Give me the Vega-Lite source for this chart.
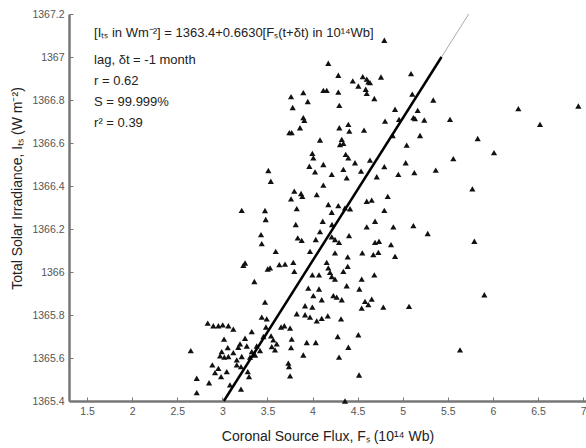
{
  "$schema": "https://vega.github.io/schema/vega-lite/v6.json",
  "width": 517,
  "height": 387,
  "autosize": {"type": "none"},
  "padding": {"left": 69, "top": 14, "right": 0, "bottom": 47},
  "background": "white",
  "config": {"view": {"stroke": null}, "font": "Liberation Sans"},
  "datasets": {
    "points": [
      {"flux":3.762,"irr":1366.816},{"flux":3.898,"irr":1366.834},{"flux":3.947,"irr":1366.793},{"flux":3.780,"irr":1366.765},{"flux":4.120,"irr":1366.845},{"flux":3.898,"irr":1366.718},{"flux":3.909,"irr":1366.705},{"flux":3.861,"irr":1366.671},{"flux":3.743,"irr":1366.648},{"flux":3.769,"irr":1366.648},{"flux":4.083,"irr":1366.614},{"flux":3.998,"irr":1366.552},{"flux":4.009,"irr":1366.531},{"flux":3.965,"irr":1366.492},{"flux":4.028,"irr":1366.466},{"flux":3.510,"irr":1366.472},{"flux":3.537,"irr":1366.422},{"flux":4.120,"irr":1366.404},{"flux":3.798,"irr":1366.376},{"flux":3.873,"irr":1366.365},{"flux":3.887,"irr":1366.352},{"flux":3.762,"irr":1366.340},{"flux":4.047,"irr":1366.360},{"flux":3.825,"irr":1366.295},{"flux":3.215,"irr":1366.287},{"flux":3.473,"irr":1366.286},{"flux":4.120,"irr":1366.500},
      {"flux":4.796,"irr":1367.078},{"flux":4.175,"irr":1366.971},{"flux":4.286,"irr":1366.915},{"flux":4.446,"irr":1366.889},{"flux":4.508,"irr":1366.865},{"flux":4.557,"irr":1366.909},{"flux":4.601,"irr":1366.897},{"flux":4.619,"irr":1366.884},{"flux":4.637,"irr":1366.881},{"flux":4.759,"irr":1366.907},{"flux":5.092,"irr":1366.923},{"flux":4.157,"irr":1366.845},{"flux":4.286,"irr":1366.837},{"flux":4.590,"irr":1366.850},{"flux":4.601,"irr":1366.831},{"flux":4.685,"irr":1366.807},{"flux":4.297,"irr":1366.775},{"flux":5.106,"irr":1366.827},{"flux":5.339,"irr":1366.800},{"flux":4.915,"irr":1366.757},{"flux":5.166,"irr":1366.752},{"flux":5.118,"irr":1366.718},{"flux":5.136,"irr":1366.713},{"flux":5.239,"irr":1366.707},{"flux":5.524,"irr":1366.710},{"flux":4.804,"irr":1366.702},{"flux":4.959,"irr":1366.710},{"flux":4.297,"irr":1366.671},{"flux":4.397,"irr":1366.687},{"flux":4.408,"irr":1366.655},{"flux":4.571,"irr":1366.660},{"flux":4.324,"irr":1366.617},{"flux":4.305,"irr":1366.593},{"flux":4.342,"irr":1366.598},{"flux":4.889,"irr":1366.635},{"flux":5.192,"irr":1366.635},{"flux":5.044,"irr":1366.590},{"flux":4.368,"irr":1366.547},{"flux":4.397,"irr":1366.531},{"flux":4.471,"irr":1366.508},{"flux":4.342,"irr":1366.477},{"flux":4.213,"irr":1366.454},{"flux":4.379,"irr":1366.438},{"flux":4.538,"irr":1366.469},{"flux":4.637,"irr":1366.520},{"flux":4.796,"irr":1366.490},{"flux":4.712,"irr":1366.443},{"flux":4.951,"irr":1366.454},{"flux":5.033,"irr":1366.508},{"flux":5.129,"irr":1366.462},{"flux":5.366,"irr":1366.474},{"flux":5.561,"irr":1366.527},{"flux":4.834,"irr":1366.352},{"flux":4.601,"irr":1366.329},{"flux":4.656,"irr":1366.334},{"flux":4.796,"irr":1366.287},{"flux":4.175,"irr":1366.314},{"flux":4.286,"irr":1366.309},{"flux":4.360,"irr":1366.298},{"flux":4.416,"irr":1366.294},{"flux":4.213,"irr":1366.278},
      {"flux":6.282,"irr":1366.760},{"flux":6.947,"irr":1366.772},{"flux":6.522,"irr":1366.687},{"flux":5.831,"irr":1366.621},{"flux":6.012,"irr":1366.555},{"flux":5.772,"irr":1366.387},{"flux":5.794,"irr":1366.143},{"flux":5.905,"irr":1365.894},{"flux":5.635,"irr":1365.638},
      {"flux":3.481,"irr":1366.244},{"flux":3.814,"irr":1366.221},{"flux":3.429,"irr":1366.174},{"flux":3.437,"irr":1366.132},{"flux":3.592,"irr":1366.096},{"flux":3.836,"irr":1366.159},{"flux":3.880,"irr":1366.147},{"flux":4.036,"irr":1366.151},{"flux":4.083,"irr":1366.188},{"flux":3.972,"irr":1366.096},{"flux":3.252,"irr":1366.042},{"flux":3.233,"irr":1366.031},{"flux":3.503,"irr":1366.014},{"flux":3.529,"irr":1366.019},{"flux":3.632,"irr":1366.034},{"flux":3.695,"irr":1366.037},{"flux":3.787,"irr":1366.045},{"flux":3.798,"irr":1366.003},{"flux":3.355,"irr":1365.956},{"flux":3.998,"irr":1365.987},{"flux":4.072,"irr":1365.987},{"flux":3.953,"irr":1365.925},{"flux":4.072,"irr":1365.921},{"flux":4.009,"irr":1365.890},{"flux":4.102,"irr":1365.871},{"flux":3.917,"irr":1365.843},{"flux":3.998,"irr":1365.837},{"flux":3.825,"irr":1365.806},{"flux":3.917,"irr":1365.801},{"flux":3.972,"irr":1365.790},{"flux":4.047,"irr":1365.773},{"flux":4.102,"irr":1365.784},{"flux":3.473,"irr":1365.860},{"flux":3.437,"irr":1365.790},{"flux":3.492,"irr":1365.782},{"flux":2.838,"irr":1365.762},{"flux":2.900,"irr":1365.750},{"flux":2.956,"irr":1365.750},{"flux":3.004,"irr":1365.754},{"flux":3.067,"irr":1365.750},{"flux":3.122,"irr":1365.734},{"flux":3.651,"irr":1365.744},{"flux":3.687,"irr":1365.750},{"flux":3.751,"irr":1365.739},{"flux":3.484,"irr":1365.744},{"flux":3.326,"irr":1365.723},{"flux":3.252,"irr":1365.692},{"flux":3.196,"irr":1365.666},{"flux":3.271,"irr":1365.656},{"flux":3.019,"irr":1365.688},{"flux":3.455,"irr":1365.700},{"flux":3.540,"irr":1365.703},{"flux":3.565,"irr":1365.684},{"flux":3.603,"irr":1365.666},{"flux":3.769,"irr":1365.688},{"flux":3.936,"irr":1365.672},{"flux":4.036,"irr":1365.672},{"flux":3.381,"irr":1365.656},{"flux":3.418,"irr":1365.634},{"flux":3.762,"irr":1365.648},{"flux":3.898,"irr":1365.614},{"flux":3.060,"irr":1365.648},{"flux":2.993,"irr":1365.630},{"flux":2.975,"irr":1365.610},{"flux":3.022,"irr":1365.604},{"flux":3.067,"irr":1365.607},{"flux":3.122,"irr":1365.625},{"flux":3.177,"irr":1365.650},{"flux":3.160,"irr":1365.591},{"flux":3.215,"irr":1365.607},{"flux":3.548,"irr":1365.653},{"flux":3.584,"irr":1365.638},{"flux":3.326,"irr":1365.630},{"flux":3.363,"irr":1365.614},{"flux":3.307,"irr":1365.604},{"flux":3.732,"irr":1365.576},{"flux":3.739,"irr":1365.560},{"flux":2.889,"irr":1365.568},{"flux":2.956,"irr":1365.552},{"flux":2.919,"irr":1365.532},{"flux":2.986,"irr":1365.513},{"flux":3.049,"irr":1365.537},{"flux":3.160,"irr":1365.568},{"flux":3.207,"irr":1365.560},{"flux":3.282,"irr":1365.537},{"flux":3.296,"irr":1365.513},{"flux":3.751,"irr":1365.517},{"flux":2.716,"irr":1365.506},{"flux":2.853,"irr":1365.485},{"flux":2.716,"irr":1365.439},{"flux":3.085,"irr":1365.475},{"flux":3.207,"irr":1365.455},{"flux":2.650,"irr":1365.634},{"flux":4.113,"irr":1366.236},
      {"flux":4.601,"irr":1366.210},{"flux":4.693,"irr":1366.236},{"flux":4.896,"irr":1366.210},{"flux":5.118,"irr":1366.216},{"flux":5.277,"irr":1366.179},{"flux":4.405,"irr":1366.169},{"flux":4.213,"irr":1366.163},{"flux":4.249,"irr":1366.151},{"flux":4.294,"irr":1366.138},{"flux":4.693,"irr":1366.138},{"flux":4.737,"irr":1366.143},{"flux":4.870,"irr":1366.127},{"flux":4.249,"irr":1366.089},{"flux":4.390,"irr":1366.070},{"flux":4.552,"irr":1366.089},{"flux":4.674,"irr":1366.081},{"flux":4.730,"irr":1366.091},{"flux":4.915,"irr":1366.073},{"flux":4.157,"irr":1366.045},{"flux":4.175,"irr":1366.019},{"flux":4.194,"irr":1365.998},{"flux":4.213,"irr":1365.979},{"flux":4.249,"irr":1365.967},{"flux":4.342,"irr":1366.003},{"flux":4.390,"irr":1366.026},{"flux":4.685,"irr":1365.987},{"flux":4.545,"irr":1365.967},{"flux":4.379,"irr":1365.936},{"flux":4.519,"irr":1365.921},{"flux":4.231,"irr":1365.890},{"flux":4.268,"irr":1365.883},{"flux":4.324,"irr":1365.871},{"flux":4.582,"irr":1365.863},{"flux":4.656,"irr":1365.874},{"flux":4.619,"irr":1365.848},{"flux":4.545,"irr":1365.832},{"flux":4.785,"irr":1365.837},{"flux":5.070,"irr":1365.840},{"flux":4.169,"irr":1365.796},{"flux":4.316,"irr":1365.782},{"flux":4.279,"irr":1365.700},{"flux":4.508,"irr":1365.708},{"flux":4.397,"irr":1365.650},{"flux":4.294,"irr":1365.604},{"flux":4.516,"irr":1365.521},{"flux":4.360,"irr":1365.400},{"flux":4.216,"irr":1366.221}
    ],
    "fitFull": [
      {"flux":3.017,"irr":1365.4},{"flux":5.732,"irr":1367.2}
    ],
    "fitBold": [
      {"flux":3.017,"irr":1365.4},{"flux":5.43,"irr":1367.0}
    ],
    "notes": [
      {"flux":1.578,"irr":1367.111,"label":"[Iₜₛ in Wm⁻²] = 1363.4+0.6630[Fₛ(t+δt) in 10¹⁴Wb]"},
      {"flux":1.578,"irr":1366.985,"label":"lag, δt = -1 month"},
      {"flux":1.578,"irr":1366.887,"label":"r = 0.62"},
      {"flux":1.578,"irr":1366.789,"label":"S = 99.999%"},
      {"flux":1.578,"irr":1366.691,"label":"r² = 0.39"}
    ]
  },
  "encoding": {
    "x": {
      "field": "flux", "type": "quantitative",
      "scale": {"domain": [1.3, 7.032], "nice": false, "zero": false},
      "axis": {
        "title": "Coronal Source Flux, Fₛ (10¹⁴ Wb)",
        "values": [1.5, 2, 2.5, 3, 3.5, 4, 4.5, 5, 5.5, 6, 6.5, 7],
        "format": "~g", "grid": false, "labelFlush": false,
        "labelFontSize": 10.5, "labelColor": "#555", "labelPadding": 9,
        "domainColor": "#777", "domainWidth": 2.5,
        "tickColor": "#777", "tickSize": -4, "tickWidth": 1,
        "titleFontSize": 14, "titleFontWeight": "normal", "titleColor": "#222", "titlePadding": 13
      }
    },
    "y": {
      "field": "irr", "type": "quantitative",
      "scale": {"domain": [1365.4, 1367.2], "nice": false, "zero": false},
      "axis": {
        "title": "Total Solar Irradiance, Iₜₛ (W m⁻²)",
        "values": [1365.4, 1365.6, 1365.8, 1366, 1366.2, 1366.4, 1366.6, 1366.8, 1367, 1367.2],
        "format": "~g", "grid": false, "labelFlush": false,
        "labelFontSize": 10.5, "labelColor": "#555", "labelPadding": 9,
        "domainColor": "#777", "domainWidth": 2.5,
        "tickColor": "#777", "tickSize": -4, "tickWidth": 1,
        "titleFontSize": 14, "titleFontWeight": "normal", "titleColor": "#222",
        "titleAngle": -90, "titleX": -52, "titleY": 174, "titleAlign": "center", "titleBaseline": "middle"
      }
    }
  },
  "layer": [
    {
      "data": {"name": "points"},
      "mark": {"type": "point", "shape": "triangle-up", "filled": true, "size": 38, "color": "#111", "opacity": 1}
    },
    {
      "data": {"name": "fitFull"},
      "mark": {"type": "line", "color": "#aaa", "strokeWidth": 1}
    },
    {
      "data": {"name": "fitBold"},
      "mark": {"type": "line", "color": "#000", "strokeWidth": 2.5}
    },
    {
      "data": {"name": "notes"},
      "mark": {"type": "text", "align": "left", "baseline": "middle", "fontSize": 13, "color": "#222"},
      "encoding": {"text": {"field": "label", "type": "nominal"}}
    }
  ]
}
